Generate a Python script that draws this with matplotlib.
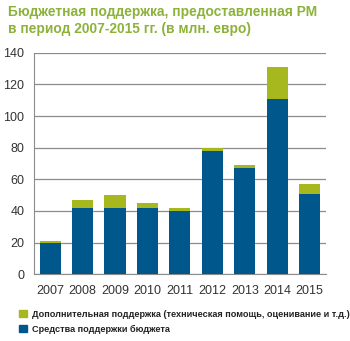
import matplotlib
matplotlib.use('Agg')
import matplotlib.pyplot as plt
from matplotlib.patches import Patch
import numpy as np

years = ['2007', '2008', '2009', '2010', '2011', '2012', '2013', '2014', '2015']
budget = [20, 42, 42, 42, 40, 78, 67, 111, 51]
extra = [1, 5, 8, 3, 2, 2, 2, 20, 6]

blue = '#00578c'
green = '#a6b81e'
narrow = ['Liberation Sans Narrow', 'Liberation Sans', 'DejaVu Sans']

fig = plt.figure(figsize=(3.5, 3.41), dpi=100)
ax = fig.add_axes([0.097, 0.196, 0.834, 0.649])

x = np.arange(len(years))
ax.bar(x, budget, width=0.65, color=blue, zorder=3)
ax.bar(x, extra, width=0.65, bottom=budget, color=green, zorder=3)

ax.set_xlim(-0.5, 8.5)
ax.set_ylim(0, 140)
ax.set_yticks(range(0, 141, 20))
ax.set_xticks(x)
ax.set_xticklabels(years)
ax.tick_params(length=0, labelsize=9, colors='#333333')
ax.tick_params(axis='y', pad=7)
ax.tick_params(axis='x', pad=8)
for lab in ax.get_xticklabels() + ax.get_yticklabels():
    lab.set_family(narrow)
ax.grid(axis='y', color='#8c8c8c', linewidth=0.9, zorder=0)
for s in ['top', 'right']:
    ax.spines[s].set_visible(False)
ax.spines['left'].set_color('#8c8c8c')
ax.spines['bottom'].set_color('#8c8c8c')

fig.text(0.023, 0.985, 'Бюджетная поддержка, предоставленная РМ\nв период 2007-2015 гг. (в млн. евро)',
         ha='left', va='top', fontsize=9.9, fontweight='bold', color='#8cb23a', linespacing=1.3,
         family=['Liberation Sans', 'DejaVu Sans'])

handles = [Patch(color=green, label='Дополнительная поддержка (техническая помощь, оценивание и т.д.)'),
           Patch(color=blue, label='Средства поддержки бюджета')]
fig.legend(handles=handles, loc='upper left', bbox_to_anchor=(0.055, 0.092), frameon=False,
           prop={'family': ['Liberation Sans', 'DejaVu Sans'], 'size': 6.6, 'weight': 'bold'},
           handlelength=0.8, handleheight=0.8, handletextpad=0.6, labelspacing=0.7,
           borderpad=0, borderaxespad=0)
for t in fig.legends[0].get_texts():
    t.set_color('#222222')

plt.savefig('out.png', dpi=100)
plt.close()
